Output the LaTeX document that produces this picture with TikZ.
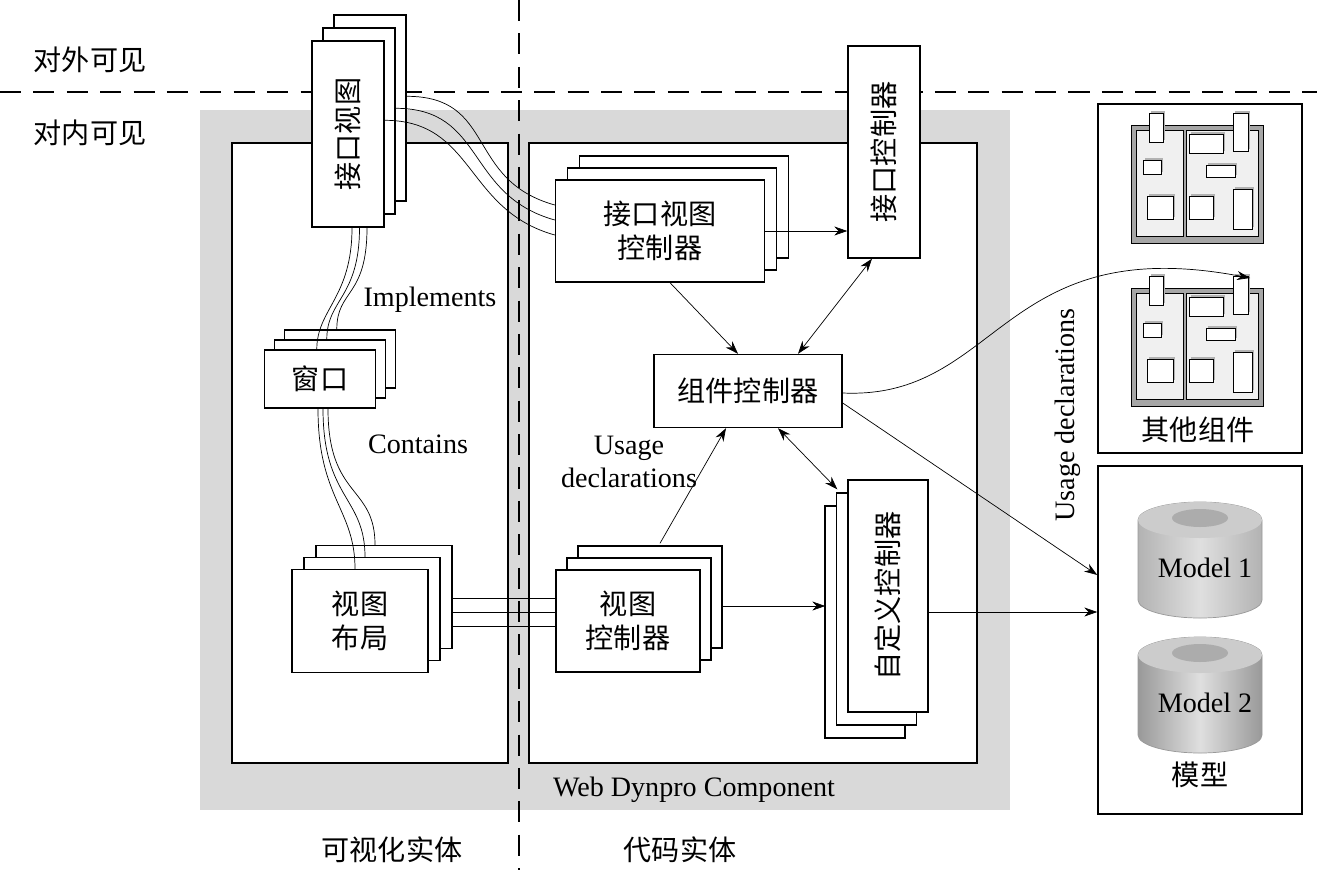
\documentclass[tikz,border=0pt]{standalone}
\usepackage{fontspec}
\setmainfont{Liberation Serif}
\newfontfamily\cjk{Noto Sans CJK SC}
\usetikzlibrary{shadows,arrows.meta,calc}
\tikzset{
	box/.style = {draw, thick, fill=white, inner sep=0pt},
	stack/.style 2 args = {box, double copy shadow={shadow xshift=#1, shadow yshift=#2, fill=white, draw, thick}},
	zh/.style = {font=\cjk\fontsize{16}{19}\selectfont, align=center},
	en/.style = {font=\fontsize{16}{19}\selectfont, align=center},
	link/.style = {thin},
	arr/.style = {thin, -{Stealth[length=2.6mm, width=1.8mm]}},
	darr/.style = {thin, {Stealth[length=2.6mm, width=1.8mm]}-{Stealth[length=2.6mm, width=1.8mm]}},
	compicon/.pic = {
		\draw [fill=gray!70] (0, 0) rectangle (132, 118);
		\draw [fill=gray!12] (5, 5) rectangle (52, 111);
		\draw [fill=gray!12] (55, 5) rectangle (127, 111);
		\foreach \a/\b/\c/\d in {18/-12/32/17, 102/-12/117/26, 58/9/92/28, 12/35/30/49,
			75/40/104/52, 16/71/42/94, 58/71/82/94, 102/64/121/104}
		{
			\fill [gray!60] (\a+2, \b-2) rectangle (\c+2, \d-2);
			\draw [fill=white] (\a, \b) rectangle (\c, \d);
		}
	},
	cyl/.pic = {
		\shade [left color=gray!#1, right color=gray!#1, middle color=gray!25, draw=gray!80]
			(-62, 0) -- (-62, 80) arc [start angle=180, end angle=0, x radius=62, y radius=18]
			-- (62, 0) arc [start angle=0, end angle=-180, x radius=62, y radius=18] -- cycle;
		\fill [gray!40] (0, 0) ellipse [x radius=62, y radius=18];
		\fill [gray!65] (0, -2) ellipse [x radius=28, y radius=9];
	}
}
\begin{document}
\begin{tikzpicture}[x=0.2mm, y=-0.2mm]
	\useasboundingbox (0, 0) rectangle (1317, 870);
	% background frames
	\fill [gray!30] (200, 110) rectangle (1010, 810);
	\draw [thick, fill=white] (232, 143) rectangle (508, 763);
	\draw [thick, fill=white] (529, 143) rectangle (977, 763);
	\draw [thick, dash pattern=on 12pt off 7pt] (0, 92) -- (1317, 92);
	\draw [thick, dash pattern=on 12pt off 7pt] (519, 0) -- (519, 870);
	\node [zh] (outer) at (90, 60) {对外可见};
	\node [zh] (inner) at (90, 133) {对内可见};
	% visual entities
	\node [stack={2.2mm}{2.6mm}, minimum width=14.4mm, minimum height=37.2mm] (iview) at (348, 134) {};
	\node [zh, rotate=90] at (iview) {接口视图};
	\node [stack={2mm}{2mm}, minimum width=22.2mm, minimum height=11.6mm, zh] (window) at (320, 379) {窗口};
	\node [stack={2.4mm}{2.4mm}, minimum width=27.2mm, minimum height=20.6mm, zh] (layout) at (360, 621) {视图\\布局};
	% code entities
	\node [stack={2.4mm}{2.4mm}, minimum width=41.8mm, minimum height=20.4mm, zh] (ivctrl) at (660, 231) {接口视图\\控制器};
	\node [stack={2.2mm}{2.4mm}, minimum width=28.8mm, minimum height=20.4mm, zh] (vctrl) at (628, 621) {视图\\控制器};
	\node [box, minimum width=14.4mm, minimum height=42.4mm] (ictrl) at (884, 152) {};
	\node [zh, rotate=90] at (ictrl) {接口控制器};
	\node [box, minimum width=37.6mm, minimum height=14.6mm, zh] (cctrl) at (748, 391) {组件控制器};
	\node [stack={-2.3mm}{-2.6mm}, minimum width=16mm, minimum height=46.4mm] (custom) at (888, 596) {};
	\node [zh, rotate=90] at (custom) {自定义控制器};
	% other components and models
	\node [box, minimum width=40.8mm, minimum height=69.8mm] (others) at (1200, 278.5) {};
	\node [box, minimum width=40.8mm, minimum height=69.6mm] (models) at (1200, 640) {};
	\pic at (1131, 125) {compicon};
	\pic at (1131, 288) {compicon};
	\node [zh] (otherslbl) at (1198, 430) {其他组件};
	\pic at (1200, 520) {cyl=60};
	\pic at (1200, 655) {cyl=80};
	\node [en] (m1) at (1205, 568) {Model 1};
	\node [en] (m2) at (1205, 703) {Model 2};
	\node [zh] (modelslbl) at (1200, 775) {模型};
	% labels
	\node [en] (impl) at (430, 300) {Implements};
	\node [en] (cont) at (418, 444) {Contains};
	\node [en] (usage) at (629, 462) {Usage\\declarations};
	\node [en] (wdc) at (694, 790) {Web Dynpro Component};
	\node [zh] (vis) at (392, 850) {可视化实体};
	\node [zh] (code) at (680, 850) {代码实体};
	\node [en, rotate=90] (usage2) at (1068, 415) {Usage declarations};
	% triple links
	\foreach \s/\e in {0/0, 1/1, 2/2}
	{
		\draw [link] ($(iview.north east)+(11*\s, 80-12*\s)$)
			.. controls +(90, 0) and +(-90, -25) .. ($(ivctrl.west)+(0, 4-15*\s)$);
		\draw [link] ($(iview.south)+(4+7.5*\s, 0)$)
			.. controls +(0, 70) and +(0, -40) .. ($(window.north west)+(53+10*\s, -10*\s)$);
		\draw [link] ($(window.south)+(-2+5*\s, 0)$)
			.. controls +(0, 90) and +(0, -60) .. ($(layout.north)+(-5+10*\s, -12*\s)$);
		\draw [link] ($(layout.east)+(24, -23+14*\s)$) -- ($(vctrl.west)+(0, -23+14*\s)$);
	}
	% arrows
	\draw [arr] (ivctrl.east) -- (ictrl.west |- ivctrl.east);
	\draw [arr] ($(ivctrl.south)+(10, 0)$) -- ($(cctrl.north)+(-10, 0)$);
	\draw [darr] ($(cctrl.north)+(50, 0)$) -- ($(ictrl.south)+(-12, 0)$);
	\draw [darr] ($(cctrl.south)+(30, 0)$) -- ($(custom.north west)+(-10, 10)$);
	\draw [arr] ($(vctrl.north)+(32, -26)$) -- ($(cctrl.south)+(-22, 0)$);
	\draw [arr] ($(vctrl.east)+(22, -15)$) -- ($(custom.west)+(-22, 10)$);
	\draw [arr] ($(custom.east)+(0, 16)$) -- (models.west |- 0, 612);
	\draw [arr] ($(cctrl.east)+(0, 12)$) -- ($(models.west)+(0, -65)$);
	\coordinate (iconend) at (1250, 278);
	\draw [arr] ($(cctrl.east)+(0, 2)$) .. controls (1000, 400) and (1000, 230) .. (iconend);
\end{tikzpicture}
\end{document}
